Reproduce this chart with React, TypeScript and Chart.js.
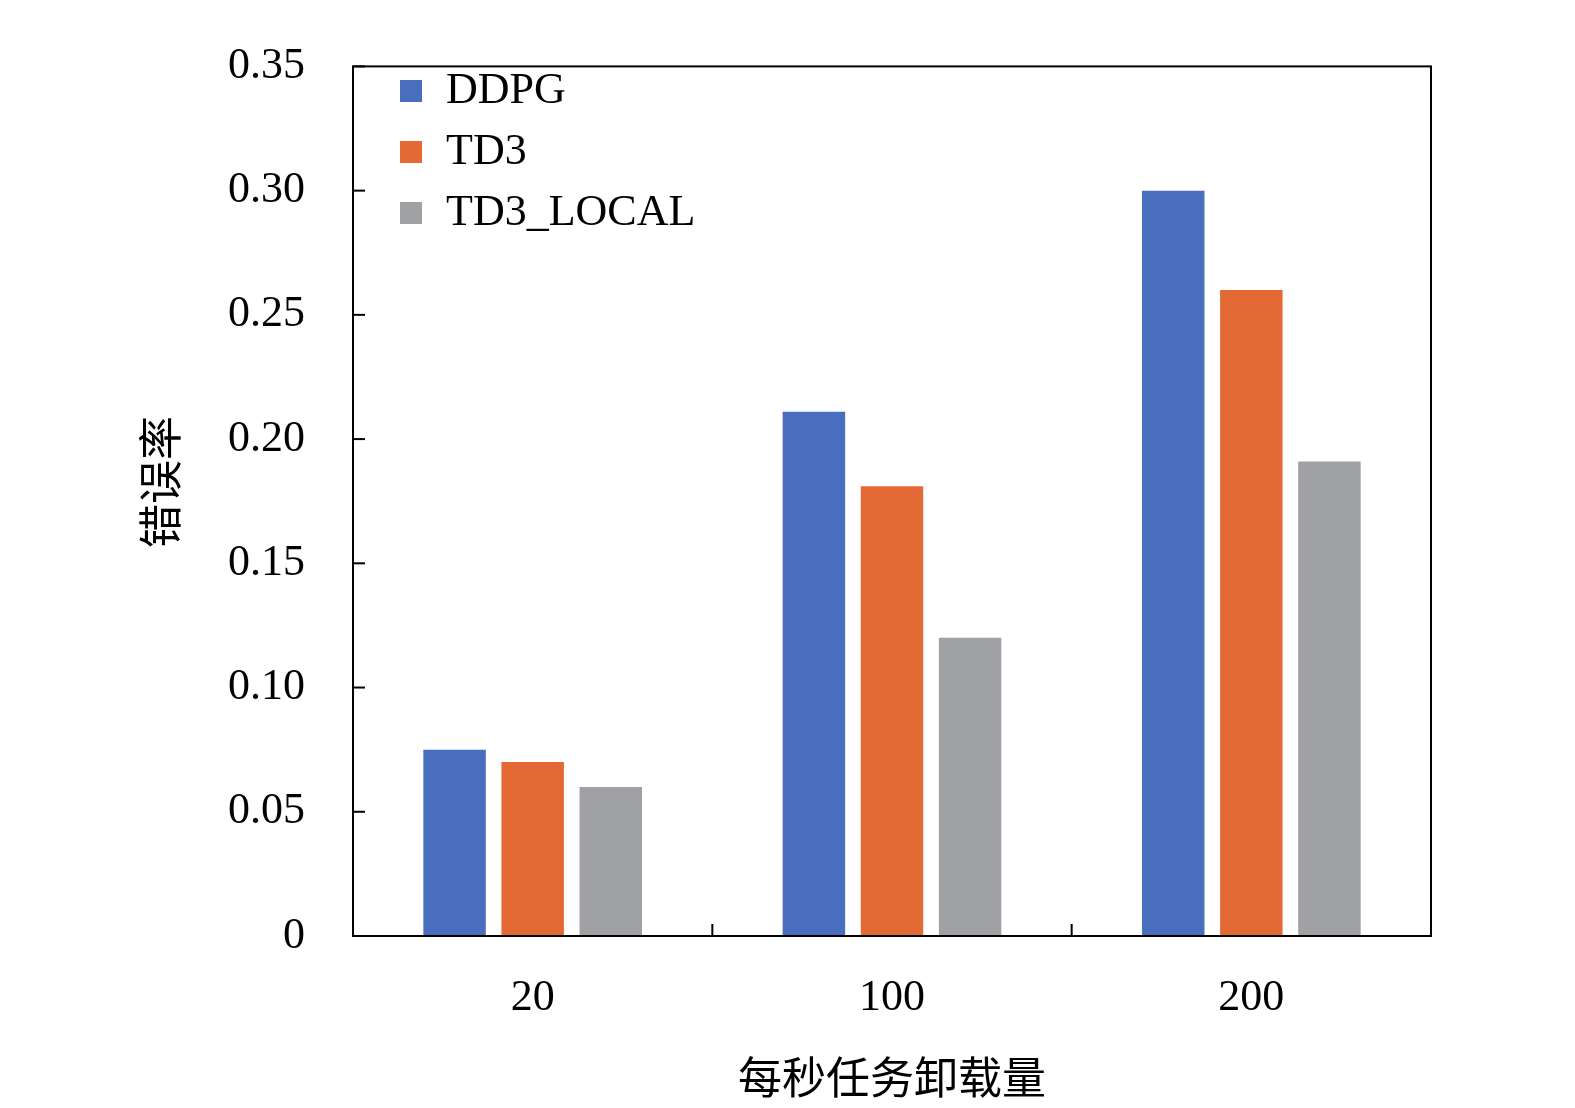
import React, { useEffect, useRef } from "react";
import { Chart, registerables } from "chart.js";
Chart.register(...registerables);

const categories = ["20", "100", "200"];
const ddpg = [0.075, 0.211, 0.3];
const td3 = [0.07, 0.181, 0.26];
const td3Local = [0.06, 0.12, 0.191];
const yTicks = [0, 0.05, 0.1, 0.15, 0.2, 0.25, 0.3, 0.35];
const seriesNames = ["DDPG", "TD3", "TD3_LOCAL"];
const colors = ["#4a6ebe", "#e36a35", "#a0a1a4"];

const SERIF = "'Liberation Serif', 'DejaVu Serif', serif";

const deco = {
  id: "deco",
  afterDraw(chart: any) {
    const { ctx, chartArea: a, scales } = chart;
    ctx.save();
    ctx.strokeStyle = "#000";
    ctx.lineWidth = 2;
    ctx.strokeRect(a.left, a.top, a.right - a.left, a.bottom - a.top);
    // y ticks inward
    for (const v of yTicks) {
      const y = scales.y.getPixelForValue(v);
      ctx.beginPath();
      ctx.moveTo(a.left, y);
      ctx.lineTo(a.left + 12, y);
      ctx.stroke();
    }
    // x ticks between categories
    const cw = (a.right - a.left) / categories.length;
    for (let i = 1; i < categories.length; i++) {
      const x = a.left + cw * i;
      ctx.beginPath();
      ctx.moveTo(x, a.bottom);
      ctx.lineTo(x, a.bottom - 12);
      ctx.stroke();
    }
    // legend
    ctx.font = `44px ${SERIF}`;
    ctx.textBaseline = "middle";
    seriesNames.forEach((n, i) => {
      const y = 91 + i * 61;
      ctx.fillStyle = colors[i];
      ctx.fillRect(400, y - 11, 22, 22);
      ctx.fillStyle = "#000";
      ctx.fillText(n, 446, y);
    });
    // axis titles
    ctx.font = `44px 'Noto Sans CJK SC', sans-serif`;
    ctx.textAlign = "center";
    ctx.fillText("每秒任务卸载量", (a.left + a.right) / 2, 1077);
    ctx.translate(160, 482);
    ctx.rotate(-Math.PI / 2);
    ctx.fillText("错误率", 0, 0);
    ctx.restore();
  },
};

export default function App() {
  const ref = useRef<HTMLCanvasElement>(null);
  useEffect(() => {
    document.body.style.margin = "0";
    const chart = new Chart(ref.current!, {
      type: "bar",
      data: {
        labels: categories,
        datasets: [ddpg, td3, td3Local].map((d, i) => ({
          label: seriesNames[i],
          data: d,
          backgroundColor: colors[i],
          categoryPercentage: 0.652,
          barPercentage: 0.8,
        })),
      },
      options: {
        animation: false,
        responsive: false,
        layout: { padding: { top: 27, right: 144, left: 0, bottom: 0 } },
        plugins: { legend: { display: false }, tooltip: { enabled: false } },
        scales: {
          x: {
            grid: { display: false },
            border: { display: false },
            ticks: { color: "#000", font: { family: SERIF, size: 44 }, padding: 28 },
            afterFit: (s: any) => { s.height = 172; },
          },
          y: {
            min: 0,
            max: 0.35,
            afterBuildTicks: (s: any) => { s.ticks = yTicks.map((v) => ({ value: v })); },
            grid: { display: false },
            border: { display: false },
            ticks: {
              color: "#000",
              font: { family: SERIF, size: 44 },
              padding: 40,
              callback: (v: any) => (v === 0 ? "0" : Number(v).toFixed(2)),
            },
            afterFit: (s: any) => { s.width = 353; },
          },
        },
      },
      plugins: [deco],
    });
    return () => chart.destroy();
  }, []);
  return <canvas ref={ref} width={1575} height={1108} style={{ display: "block" }} />;
}
